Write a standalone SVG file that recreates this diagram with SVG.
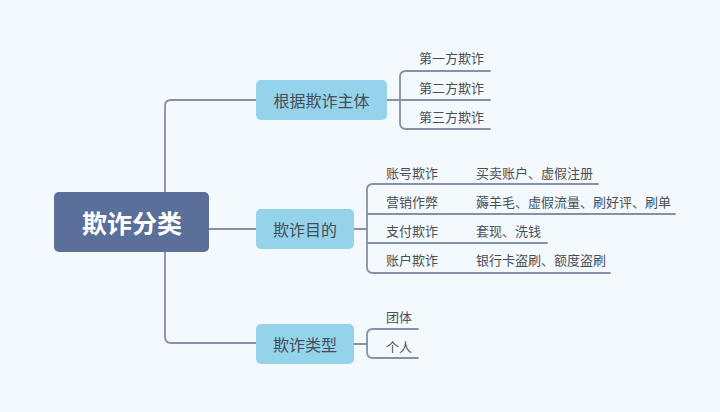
<svg xmlns="http://www.w3.org/2000/svg" width="720" height="412" viewBox="0 0 720 412">
<style>
.ln{fill:none;stroke:#8690a6;stroke-width:1.8;stroke-linecap:round}
.node{fill:#94d3e9}
.nt{font-family:"Noto Sans CJK SC","Microsoft YaHei",sans-serif;font-size:16px;fill:#454d57;text-anchor:middle;dominant-baseline:central}
.st{font-family:"Noto Sans CJK SC","Microsoft YaHei",sans-serif;font-size:13px;fill:#4a4f57;dominant-baseline:central}
.rt{font-family:"Noto Sans CJK SC","Microsoft YaHei",sans-serif;font-size:25px;font-weight:bold;fill:#ffffff;text-anchor:middle;dominant-baseline:central}
</style>
<rect width="720" height="412" fill="#f4f9fd"/>
<g id="connectors">
<path class="ln" d="M165,192 V106 Q165,100 171,100 H256"/>
<path class="ln" d="M165,252 V337 Q165,343 171,343 H256"/>
<path class="ln" d="M209,229 H256"/>
<path class="ln" d="M387,100 H400"/>
<path class="ln" d="M490,71 H406 Q400,71 400,77 V123 Q400,129 406,129 H490"/>
<path class="ln" d="M400,100 H490"/>
<path class="ln" d="M354,229 H367"/>
<path class="ln" d="M598,184 H373 Q367,184 367,190 V267 Q367,273 373,273 H610"/>
<path class="ln" d="M367,214 H675"/>
<path class="ln" d="M367,243 H547"/>
<path class="ln" d="M354,344 H367"/>
<path class="ln" d="M418,329 H373 Q367,329 367,335 V352 Q367,358 373,358 H418"/>
</g>
<g id="root">
<rect x="54" y="192" width="155" height="60" rx="5" fill="#5a6f99"/>
<text class="rt" x="132" y="222">欺诈分类</text>
</g>
<g id="n1">
<rect class="node" x="256" y="80" width="131" height="40" rx="5"/>
<text class="nt" x="321.5" y="100">根据欺诈主体</text>
</g>
<g id="n2">
<rect class="node" x="256" y="209" width="98" height="40" rx="5"/>
<text class="nt" x="305" y="229">欺诈目的</text>
</g>
<g id="n3">
<rect class="node" x="256" y="324" width="98" height="40" rx="5"/>
<text class="nt" x="305" y="344">欺诈类型</text>
</g>
<g id="n1-children">
<text class="st" x="419" y="57">第一方欺诈</text>
<text class="st" x="419" y="87">第二方欺诈</text>
<text class="st" x="419" y="116">第三方欺诈</text>
</g>
<g id="n2-children">
<text class="st" x="386" y="172">账号欺诈</text>
<text class="st" x="476" y="172">买卖账户、虚假注册</text>
<text class="st" x="386" y="201">营销作弊</text>
<text class="st" x="476" y="201">薅羊毛、虚假流量、刷好评、刷单</text>
<text class="st" x="386" y="230">支付欺诈</text>
<text class="st" x="476" y="230">套现、洗钱</text>
<text class="st" x="386" y="259">账户欺诈</text>
<text class="st" x="476" y="259">银行卡盗刷、额度盗刷</text>
</g>
<g id="n3-children">
<text class="st" x="386" y="316">团体</text>
<text class="st" x="386" y="346">个人</text>
</g>
</svg>
